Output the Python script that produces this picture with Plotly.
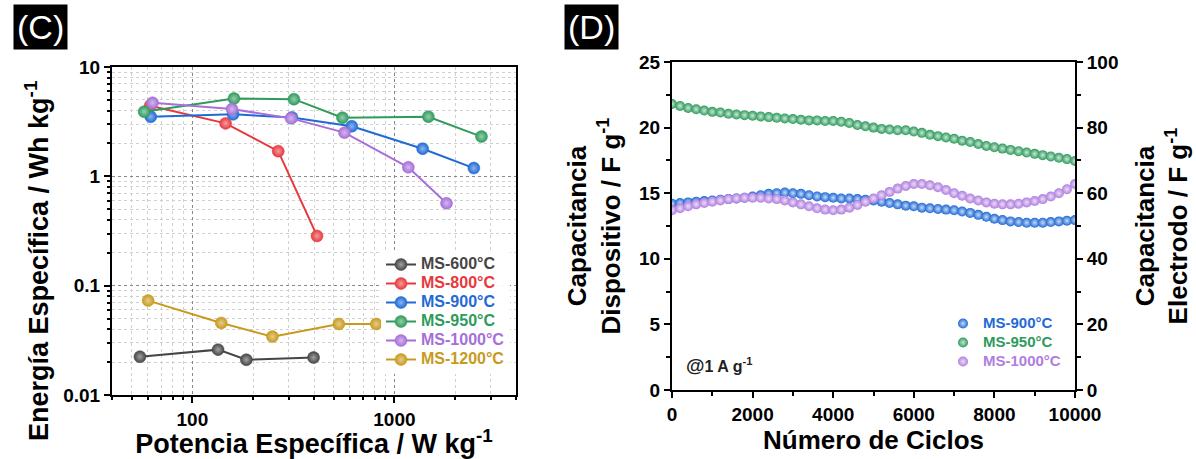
import plotly.graph_objects as go

# ---------------- Panel C data (Ragone) ----------------
labels_c = ["MS-600°C", "MS-800°C", "MS-900°C", "MS-950°C", "MS-1000°C", "MS-1200°C"]
colors_c = ["#454545", "#e8383d", "#1f6ad6", "#2e9b5c", "#a66fd9", "#c89a1c"]
power_600 = [55, 134, 185, 398]
energy_600 = [0.0224, 0.026, 0.021, 0.022]
power_800 = [61.8, 146, 266, 414]
energy_800 = [4.42, 3.05, 1.70, 0.285]
power_900 = [62.2, 159, 311, 615, 1380, 2473]
energy_900 = [3.51, 3.69, 3.46, 2.87, 1.79, 1.19]
power_950 = [57.7, 160.6, 318, 553, 1473, 2698]
energy_950 = [3.90, 5.15, 5.08, 3.44, 3.51, 2.31]
power_1000 = [63.5, 157, 308, 566, 1172, 1811]
energy_1000 = [4.71, 4.12, 3.39, 2.51, 1.21, 0.567]
power_1200 = [60.4, 139, 249, 531, 813]
energy_1200 = [0.073, 0.0456, 0.0342, 0.0446, 0.0446]
powers = [power_600, power_800, power_900, power_950, power_1000, power_1200]
energies = [energy_600, energy_800, energy_900, energy_950, energy_1000, energy_1200]

# ---------------- Panel D data (cycling) ----------------
cycles = list(range(0, 10001, 200))
cap_900 = [14.2, 14.25, 14.3, 14.35, 14.4, 14.45, 14.5, 14.55, 14.6, 14.65,
           14.75, 14.85, 14.95, 15.0, 15.05, 15.0, 14.95, 14.85, 14.75, 14.7,
           14.65, 14.6, 14.6, 14.55, 14.5, 14.45, 14.35, 14.25, 14.15, 14.05,
           14.0, 13.9, 13.85, 13.8, 13.75, 13.7, 13.6, 13.5, 13.35, 13.2,
           13.05, 12.95, 12.85, 12.8, 12.75, 12.75, 12.75, 12.8, 12.85, 12.9, 12.95]
cap_950 = [21.8, 21.65, 21.5, 21.4, 21.3, 21.2, 21.15, 21.05, 21.0, 20.95,
           20.9, 20.85, 20.8, 20.75, 20.7, 20.65, 20.6, 20.55, 20.55, 20.5,
           20.5, 20.45, 20.35, 20.2, 20.1, 20.0, 19.9, 19.85, 19.8, 19.8,
           19.7, 19.6, 19.45, 19.35, 19.25, 19.15, 19.0, 18.9, 18.75, 18.6,
           18.5, 18.4, 18.3, 18.2, 18.1, 18.0, 17.9, 17.8, 17.7, 17.6, 17.45]
cap_1000 = [13.7, 13.85, 14.0, 14.15, 14.25, 14.35, 14.45, 14.55, 14.6, 14.65,
            14.65, 14.65, 14.6, 14.55, 14.45, 14.3, 14.15, 14.0, 13.85, 13.75,
            13.7, 13.75, 13.9, 14.1, 14.35, 14.6, 14.85, 15.1, 15.35, 15.55,
            15.7, 15.7, 15.6, 15.45, 15.25, 15.0, 14.8, 14.6, 14.45, 14.3,
            14.2, 14.15, 14.15, 14.2, 14.3, 14.4, 14.55, 14.75, 15.0, 15.3, 15.7]
labels_d = ["MS-900°C", "MS-950°C", "MS-1000°C"]
colors_d = ["#1f6ad6", "#2e9b5c", "#b07ee0"]
caps = [cap_900, cap_950, cap_1000]

FONT = "Liberation Sans"

def lighten(hexc, f):
    h = hexc.lstrip("#")
    r, g, b = int(h[0:2], 16), int(h[2:4], 16), int(h[4:6], 16)
    r = int(r + (255 - r) * f); g = int(g + (255 - g) * f); b = int(b + (255 - b) * f)
    return f"rgb({r},{g},{b})"

fig = go.Figure()

for lab, col, px, ey in zip(labels_c, colors_c, powers, energies):
    fig.add_trace(go.Scatter(
        x=px, y=ey, mode="lines+markers", xaxis="x", yaxis="y",
        name=f'<span style="color:{col};font-size:16px">{lab}</span>',
        line=dict(color=col, width=2),
        marker=dict(size=12, color=col, symbol="circle",
                    gradient=dict(type="radial", color=lighten(col, 0.5)),
                    line=dict(color=col, width=0.5)),
        legend="legend"))

for lab, col, cy in zip(labels_d, colors_d, caps):
    fig.add_trace(go.Scatter(
        x=cycles, y=cy, mode="markers", xaxis="x2", yaxis="y2",
        name=f'<span style="color:{col};font-size:15px">{lab}</span>',
        marker=dict(size=10, color=col, symbol="circle",
                    gradient=dict(type="radial", color=lighten(col, 0.75)),
                    line=dict(width=0)),
        legend="legend2"))

# invisible trace to anchor the right-hand electrode axis
fig.add_trace(go.Scatter(x=[0], y=[0], xaxis="x2", yaxis="y3", mode="markers",
                         marker=dict(opacity=0), showlegend=False, hoverinfo="skip"))

tickfont = dict(family=FONT, size=19, color="black", weight="bold")
titlefont = dict(family=FONT, size=26, color="black", weight="bold")
titlefont_c = dict(family=FONT, size=27, color="black", weight="bold")

fig.update_layout(
    width=1196, height=459,
    margin=dict(l=0, r=0, t=0, b=0, autoexpand=False),
    paper_bgcolor="white", plot_bgcolor="white",
    xaxis=dict(
        domain=[112/1196, 516/1196], anchor="y", type="log", automargin=False,
        range=[1.602, 3.602],
        tickvals=[100, 1000], ticktext=["100", "1000"],
        showline=True, linecolor="black", linewidth=2, mirror=True,
        ticks="outside", ticklen=6, tickwidth=1.5, tickcolor="black",
        showgrid=True, gridcolor="#888888", griddash="dot", gridwidth=1,
        minor=dict(dtick="D1", ticks="outside", ticklen=3, tickcolor="black",
                   showgrid=True, gridcolor="#d0d0d0", griddash="dot", gridwidth=1),
        tickfont=tickfont,
        title=dict(text="Potencia Específica / W kg<sup>-1</sup>", font=titlefont_c, standoff=1),
        zeroline=False),
    yaxis=dict(
        domain=[1-395/459, 1-67/459], anchor="x", type="log", automargin=False,
        range=[-2, 1],
        tickvals=[0.01, 0.1, 1, 10], ticktext=["0.01", "0.1", "1", "10"],
        showline=True, linecolor="black", linewidth=2, mirror=True,
        ticks="outside", ticklen=6, tickwidth=1.5, tickcolor="black",
        showgrid=True, gridcolor="#888888", griddash="dot", gridwidth=1,
        minor=dict(dtick="D1", ticks="outside", ticklen=3, tickcolor="black",
                   showgrid=True, gridcolor="#d0d0d0", griddash="dot", gridwidth=1),
        tickfont=tickfont,
        zeroline=False),
    xaxis2=dict(
        domain=[672/1196, 1075/1196], anchor="y2", automargin=False,
        range=[0, 10000], tickvals=[0, 2000, 4000, 6000, 8000, 10000],
        ticktext=["0", "2000", "4000", "6000", "8000", "10000"],
        showline=True, linecolor="black", linewidth=2, mirror=True,
        ticks="outside", ticklen=6, tickwidth=1.5, tickcolor="black",
        minor=dict(dtick=1000, ticks="outside", ticklen=4, tickcolor="black"),
        showgrid=False, zeroline=False, tickfont=tickfont,
        title=dict(text="Número de Ciclos", font=titlefont, standoff=2)),
    yaxis2=dict(
        domain=[1-390/459, 1-62/459], anchor="x2", automargin=False,
        range=[0, 25], tickvals=[0, 5, 10, 15, 20, 25],
        showline=True, linecolor="black", linewidth=2,
        ticks="outside", ticklen=6, tickwidth=1.5, tickcolor="black",
        minor=dict(dtick=2.5, ticks="outside", ticklen=4, tickcolor="black"),
        showgrid=False, zeroline=False, tickfont=tickfont,
        title=dict(text="Capacitancia<br>Dispositivo / F g<sup>-1</sup>", font=titlefont, standoff=11)),
    yaxis3=dict(
        overlaying="y2", side="right", anchor="x2", automargin=False,
        range=[0, 100], tickvals=[0, 20, 40, 60, 80, 100],
        showline=True, linecolor="black", linewidth=2,
        ticks="outside", ticklen=6, tickwidth=1.5, tickcolor="black",
        minor=dict(dtick=10, ticks="outside", ticklen=4, tickcolor="black"),
        showgrid=False, zeroline=False, tickfont=tickfont,
        title=dict(text="Capacitancia<br>Electrodo / F g<sup>-1</sup>", font=titlefont, standoff=18)),
    legend=dict(x=381/1196, y=1-250/459, xanchor="left", yanchor="top",
                bgcolor="rgba(255,255,255,0.92)", borderwidth=0,
                font=dict(family=FONT, size=12, weight="bold"),
                itemwidth=30, tracegroupgap=0),
    legend2=dict(x=943/1196, y=1-309/459, xanchor="left", yanchor="top",
                 bgcolor="rgba(0,0,0,0)", borderwidth=0,
                 font=dict(family=FONT, size=12, weight="bold"),
                 itemwidth=30),
    annotations=[
        dict(text="Energía Específica / Wh kg<sup>-1</sup>", textangle=-90,
             x=37/1196, y=1-261/459, xref="paper", yref="paper",
             xanchor="center", yanchor="middle", showarrow=False, font=titlefont_c),
        dict(text="(C)", x=40/1196, y=1-27/459, xref="paper", yref="paper",
             xanchor="center", yanchor="middle",
             showarrow=False, font=dict(family=FONT, size=34, color="white"),
             bgcolor="black", borderpad=3),
        dict(text="(D)", x=591/1196, y=1-27/459, xref="paper", yref="paper",
             xanchor="center", yanchor="middle",
             showarrow=False, font=dict(family=FONT, size=34, color="white"),
             bgcolor="black", borderpad=3),
        dict(text='<span style="font-size:19px">@</span>1 A g<sup>-1</sup>',
             x=684/1196, y=1-365/459, xref="paper", yref="paper",
             xanchor="left", yanchor="middle", showarrow=False,
             font=dict(family=FONT, size=16, color="#222222", weight="bold")),
    ],
    showlegend=True,
)

fig.write_html("out.html")
